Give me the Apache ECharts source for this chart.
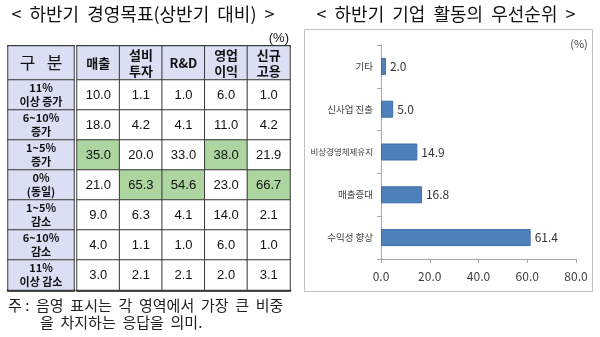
<!DOCTYPE html>
<html>
<head>
<meta charset="utf-8">
<script src="https://cdn.jsdelivr.net/npm/echarts@6/dist/echarts.min.js"></script>
<style>
  html, body { margin: 0; padding: 0; background: #ffffff; }
  #chart { width: 600px; height: 337px; }
</style>
</head>
<body>
<div id="chart"></div>
<script>
// Left table: second-half management targets versus first half (%)
const tableCorner = '구   분';
const tableColumns = ['매출', '설비\n투자', 'R&D', '영업\n이익', '신규\n고용'];
const tableRows = ['11%\n이상 증가', '6~10%\n증가', '1~5%\n증가', '0%\n(동일)', '1~5%\n감소', '6~10%\n감소', '11%\n이상 감소'];
const sales = [10.0, 18.0, 35.0, 21.0, 9.0, 4.0, 3.0];
const facilityInvestment = [1.1, 4.2, 20.0, 65.3, 6.3, 1.1, 2.1];
const rnd = [1.0, 4.1, 33.0, 54.6, 4.1, 1.0, 2.1];
const operatingProfit = [6.0, 11.0, 38.0, 23.0, 14.0, 6.0, 2.0];
const newHiring = [1.0, 4.2, 21.9, 66.7, 2.1, 1.0, 3.1];

// Right chart: priorities of business activity in the second half (%)
const priorityCategories = ['기타', '신사업 진출', '비상경영체제유지', '매출증대', '수익성 향상'];
const priorityValues = [2.0, 5.0, 14.9, 16.8, 61.4];
const priorityAxisMin = 0;
const priorityAxisMax = 80;
const priorityAxisStep = 20;

const KR = '"Noto Sans CJK KR", "Noto Sans", sans-serif';
const NUM = '"Liberation Sans", Arial, sans-serif';
const NARROW = '"Liberation Sans Narrow", "Noto Sans CJK KR", sans-serif';

const HEAD_FILL = '#dadff4';
const MAX_FILL = '#acd5a0';
const RULE = '#3a3a3a';

// Shade the largest answer in each column
const tableColumnsData = [sales, facilityInvestment, rnd, operatingProfit, newHiring];
const bodyCells = [];
tableColumnsData.forEach((col, c) => {
  const top = Math.max(...col);
  col.forEach((v, r) => {
    bodyCells.push({
      value: [c, r, v],
      itemStyle: { color: v === top ? MAX_FILL : '#ffffff' }
    });
  });
});

const cellBase = {
  type: 'heatmap',
  silent: true,
  itemStyle: { borderColor: RULE, borderWidth: 1 },
  emphasis: { disabled: true }
};

function hiddenCat(gridIndex, data, opts) {
  return Object.assign({
    type: 'category', gridIndex, data,
    axisLine: { show: false }, axisTick: { show: false },
    axisLabel: { show: false }, splitLine: { show: false }
  }, opts || {});
}

const chart = echarts.init(document.getElementById('chart'), null, { renderer: 'canvas' });

chart.setOption({
  animation: false,
  backgroundColor: '#ffffff',
  grid: [
    { left: 8, top: 46, width: 66, height: 34 },     // corner
    { left: 77, top: 46, width: 213, height: 34 },   // column headers
    { left: 8, top: 80, width: 66, height: 210 },    // row headers
    { left: 77, top: 80, width: 213, height: 210 },  // values
    { left: 381, top: 45, width: 195, height: 214 }  // priority bars
  ],
  xAxis: [
    hiddenCat(0, [tableCorner], { position: 'top', axisLine: { show: true, lineStyle: { color: '#111', width: 2 } } }),
    hiddenCat(1, tableColumns, { position: 'top', axisLine: { show: true, lineStyle: { color: '#111', width: 2 } } }),
    hiddenCat(2, ['구분'], { position: 'bottom', axisLine: { show: true, lineStyle: { color: '#111', width: 2.5 } } }),
    hiddenCat(3, tableColumns, { position: 'bottom', axisLine: { show: true, lineStyle: { color: '#111', width: 2.5 } } }),
    {
      type: 'value', gridIndex: 4,
      min: priorityAxisMin, max: priorityAxisMax, interval: priorityAxisStep,
      axisLine: { show: true, lineStyle: { color: '#a6a6a6' } },
      axisTick: { show: true, length: 4, lineStyle: { color: '#a6a6a6' } },
      splitLine: { show: false },
      axisLabel: {
        margin: 11, fontSize: 12, color: '#404040', fontFamily: NARROW,
        formatter: v => v.toFixed(1)
      }
    }
  ],
  yAxis: [
    hiddenCat(0, ['구분']),
    hiddenCat(1, ['항목']),
    hiddenCat(2, tableRows, { inverse: true }),
    hiddenCat(3, tableRows, { inverse: true }),
    {
      type: 'category', gridIndex: 4, inverse: true, data: priorityCategories,
      axisLine: { show: true, lineStyle: { color: '#a6a6a6' } },
      axisTick: { show: true, length: 4, lineStyle: { color: '#a6a6a6' } },
      axisLabel: {
        margin: 8, fontSize: 9.5, color: '#404040', fontFamily: KR,
        // long names are set a little smaller so they stay inside the frame
        formatter: v => v.length > 6 ? '{s|' + v + '}' : v,
        rich: { s: { fontSize: 8.5, color: '#404040', fontFamily: KR } }
      }
    }
  ],
  series: [
    Object.assign({}, cellBase, {
      xAxisIndex: 0, yAxisIndex: 0,
      data: [{ value: [0, 0, 0], itemStyle: { color: HEAD_FILL } }],
      label: { show: true, formatter: () => tableCorner, fontSize: 17, color: '#111', fontFamily: KR }
    }),
    Object.assign({}, cellBase, {
      xAxisIndex: 1, yAxisIndex: 1,
      data: tableColumns.map((c, i) => ({ value: [i, 0, 0], itemStyle: { color: HEAD_FILL } })),
      label: {
        show: true, formatter: p => tableColumns[p.value[0]],
        fontSize: 13, lineHeight: 16, fontWeight: 'bold', color: '#111', fontFamily: KR
      }
    }),
    Object.assign({}, cellBase, {
      xAxisIndex: 2, yAxisIndex: 2,
      data: tableRows.map((r, i) => ({ value: [0, i, 0], itemStyle: { color: HEAD_FILL } })),
      label: {
        show: true, formatter: p => tableRows[p.value[1]],
        fontSize: 11, lineHeight: 14, fontWeight: 'bold', color: '#111', fontFamily: KR
      }
    }),
    Object.assign({}, cellBase, {
      xAxisIndex: 3, yAxisIndex: 3,
      data: bodyCells,
      label: {
        show: true, formatter: p => p.value[2].toFixed(1),
        fontSize: 13, color: '#111', fontFamily: NUM
      }
    }),
    {
      type: 'bar', xAxisIndex: 4, yAxisIndex: 4, silent: true,
      data: priorityValues, barWidth: 17,
      itemStyle: { color: '#4f81bd', borderColor: '#3d6da8', borderWidth: 1 },
      label: {
        show: true, position: 'right', distance: 4,
        fontSize: 12, color: '#333', fontFamily: NARROW,
        formatter: p => p.value.toFixed(1)
      }
    }
  ],
  graphic: [
    { type: 'text', x: 143, y: 14, style: { text: '<  하반기  경영목표(상반기  대비)  >', font: '18px ' + KR, fill: '#111', textAlign: 'center', textVerticalAlign: 'middle' } },
    { type: 'text', x: 289, y: 38, style: { text: '(%)', font: '13px ' + NUM, fill: '#111', textAlign: 'right', textVerticalAlign: 'middle' } },
    { type: 'text', x: 8, y: 305, style: { text: '주 :  음영  표시는  각  영역에서  가장  큰  비중', font: '15px ' + KR, fill: '#222', textVerticalAlign: 'middle' } },
    { type: 'text', x: 40, y: 322, style: { text: '을  차지하는  응답을  의미.', font: '15px ' + KR, fill: '#222', textVerticalAlign: 'middle' } },
    { type: 'text', x: 446, y: 14, style: { text: '<  하반기  기업  활동의  우선순위  >', font: '18px ' + KR, fill: '#111', textAlign: 'center', textVerticalAlign: 'middle' } },
    { type: 'rect', shape: { x: 304.5, y: 29.5, width: 288, height: 262 }, style: { fill: 'none', stroke: '#c0c0c0', lineWidth: 1 } },
    { type: 'text', x: 579, y: 44, style: { text: '(%)', font: '11px ' + NARROW, fill: '#404040', textAlign: 'center', textVerticalAlign: 'middle' } }
  ]
});
</script>
</body>
</html>
